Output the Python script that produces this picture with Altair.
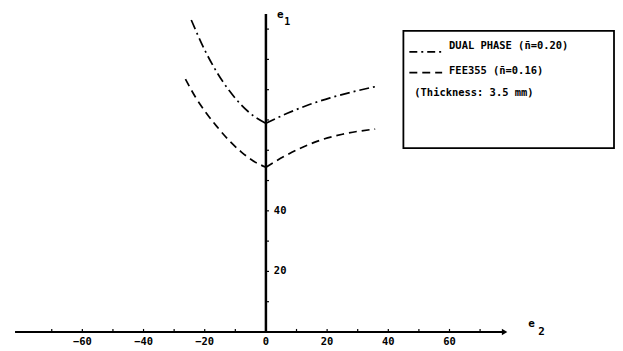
import altair as alt
import pandas as pd

# ---- data ----
dp_left_x = [-24.4, -20.0, -16.0, -12.0, -8.0, -4.0, 0.0]
dp_left_y = [103.0, 93.1, 85.7, 79.7, 74.9, 71.3, 68.9]
dp_right_x = [0.0, 7.0, 14.0, 21.0, 28.0, 35.7]
dp_right_y = [68.9, 72.2, 75.0, 77.3, 79.2, 81.0]

fe_left_x = [-26.3, -23.0, -20.0, -16.0, -12.0, -8.0, -4.0, 0.0]
fe_left_y = [83.5, 77.5, 73.0, 67.8, 63.2, 59.4, 56.4, 54.4]
fe_right_x = [0.0, 6.0, 12.0, 18.0, 25.0, 35.7]
fe_right_y = [54.4, 58.0, 61.0, 63.4, 65.3, 67.0]

x_tick_values = [-70, -60, -50, -40, -30, -20, -10, 10, 20, 30, 40, 50, 60, 70]
x_tick_labels = [-60, -40, -20, 0, 20, 40, 60]
y_tick_values = [10, 20, 30, 40, 50, 60, 70, 80, 90, 100]
y_tick_labels = [20, 40]
x_axis_extent = [-82, 78]
y_axis_extent = [0, 105]

legend_texts = ["DUAL PHASE (n\u0304=0.20)", "FEE355 (n\u0304=0.16)", "(Thickness: 3.5 mm)"]

FONT = "DejaVu Sans Mono"
FW = "bold"

rows = []
for bx, by, name, br in [(dp_left_x, dp_left_y, "DP", "DP-L"), (dp_right_x, dp_right_y, "DP", "DP-R"),
                         (fe_left_x, fe_left_y, "FE", "FE-L"), (fe_right_x, fe_right_y, "FE", "FE-R")]:
    for a, b in zip(bx, by):
        rows.append({"series": name, "branch": br, "x": a, "y": b})
curves = pd.DataFrame(rows)

xs = alt.Scale(domain=[-83, 80], nice=False, zero=False)
ys = alt.Scale(domain=[0, 106.6], nice=False, zero=False)


def X(f="x:Q"):
    return alt.X(f, scale=xs, axis=None)


def Y(f="y:Q"):
    return alt.Y(f, scale=ys, axis=None)


one = pd.DataFrame({"a": [0]})

# axes
hdf = pd.DataFrame({"x": [x_axis_extent[0]], "x2": [x_axis_extent[1]], "y": [0]})
h_axis = alt.Chart(hdf).mark_rule(color="black", strokeWidth=2).encode(x=X(), x2="x2:Q", y=Y())
adf = pd.DataFrame({"x": [x_axis_extent[1]], "y": [0]})
arrow = alt.Chart(adf).mark_point(shape="triangle-right", filled=True, color="black", size=40, opacity=1).encode(
    x=X(), y=Y())
vdf = pd.DataFrame({"x": [0], "y": [y_axis_extent[0]], "y2": [y_axis_extent[1]]})
v_axis = alt.Chart(vdf).mark_rule(color="black", strokeWidth=2.5).encode(x=X(), y=Y(), y2="y2:Q")

xt = pd.DataFrame({"x": x_tick_values, "y": [0] * len(x_tick_values), "y2": [1.0] * len(x_tick_values)})
x_ticks = alt.Chart(xt).mark_rule(color="black", strokeWidth=1.2).encode(x=X(), y=Y(), y2="y2:Q")
yt = pd.DataFrame({"y": y_tick_values, "x": [0] * len(y_tick_values), "x2": [1.0] * len(y_tick_values)})
y_ticks = alt.Chart(yt).mark_rule(color="black", strokeWidth=1.2).encode(y=Y(), x=X(), x2="x2:Q")

xl = pd.DataFrame({"x": x_tick_labels, "y": [0] * len(x_tick_labels)})
x_labels = alt.Chart(xl).mark_text(font=FONT, fontSize=10.5, fontWeight=FW, dy=10, baseline="middle", color="black").encode(
    x=X(), y=Y(), text=alt.Text("x:Q"))
yl = pd.DataFrame({"y": y_tick_labels, "x": [0] * len(y_tick_labels)})
y_labels = alt.Chart(yl).mark_text(font=FONT, fontSize=10.5, fontWeight=FW, dx=8, align="left", baseline="middle", color="black").encode(
    y=Y(), x=X(), text=alt.Text("y:Q"))

e1 = alt.Chart(one).mark_text(text="e", font=FONT, fontSize=11, fontWeight=FW, align="center", baseline="middle").encode(
    x=alt.value(270), y=alt.value(6))
e1s = alt.Chart(one).mark_text(text="1", font=FONT, fontSize=10, fontWeight=FW, align="center", baseline="middle").encode(
    x=alt.value(277), y=alt.value(13))
e2 = alt.Chart(one).mark_text(text="e", font=FONT, fontSize=11, fontWeight=FW, align="center", baseline="middle").encode(
    x=alt.value(523), y=alt.value(317))
e2s = alt.Chart(one).mark_text(text="2", font=FONT, fontSize=11, fontWeight=FW, align="center", baseline="middle").encode(
    x=alt.value(533), y=alt.value(325))

dp_line = alt.Chart(curves[curves.series == "DP"]).mark_line(
    color="black", strokeWidth=1.7, strokeDash=[10, 4, 2, 4], interpolate="monotone").encode(
    x=X(), y=Y(), detail="branch:N")
fe_line = alt.Chart(curves[curves.series == "FE"]).mark_line(
    color="black", strokeWidth=1.7, strokeDash=[8, 5], interpolate="monotone").encode(
    x=X(), y=Y(), detail="branch:N")

# legend box
box = alt.Chart(one).mark_rect(fill="white", stroke="black", strokeWidth=1.8).encode(
    x=alt.value(394), x2=alt.value(606), y=alt.value(22), y2=alt.value(140))
s1 = alt.Chart(one).mark_rule(color="black", strokeWidth=1.7, strokeDash=[8, 4, 2, 4]).encode(
    x=alt.value(400), x2=alt.value(433), y=alt.value(43))
s2 = alt.Chart(one).mark_rule(color="black", strokeWidth=1.7, strokeDash=[8, 5]).encode(
    x=alt.value(400), x2=alt.value(433), y=alt.value(64))
t1 = alt.Chart(one).mark_text(text=legend_texts[0], font=FONT, fontSize=10.5, fontWeight=FW, align="left", baseline="middle").encode(
    x=alt.value(440), y=alt.value(37))
t2 = alt.Chart(one).mark_text(text=legend_texts[1], font=FONT, fontSize=10.5, fontWeight=FW, align="left", baseline="middle").encode(
    x=alt.value(440), y=alt.value(62))
t3 = alt.Chart(one).mark_text(text=legend_texts[2], font=FONT, fontSize=10.5, fontWeight=FW, align="left", baseline="middle").encode(
    x=alt.value(405), y=alt.value(84))

chart = alt.layer(
    dp_line, fe_line, h_axis, arrow, v_axis, x_ticks, y_ticks, x_labels, y_labels,
    e1, e1s, e2, e2s, box, s1, s2, t1, t2, t3
).properties(
    width=502, height=325,
    autosize=alt.AutoSizeParams(type="none"),
    padding={"left": 4, "top": 0, "right": 105, "bottom": 15},
    background="white",
).configure_view(stroke=None)

chart.save("out.html", embed_options={"renderer": "svg", "actions": False})
